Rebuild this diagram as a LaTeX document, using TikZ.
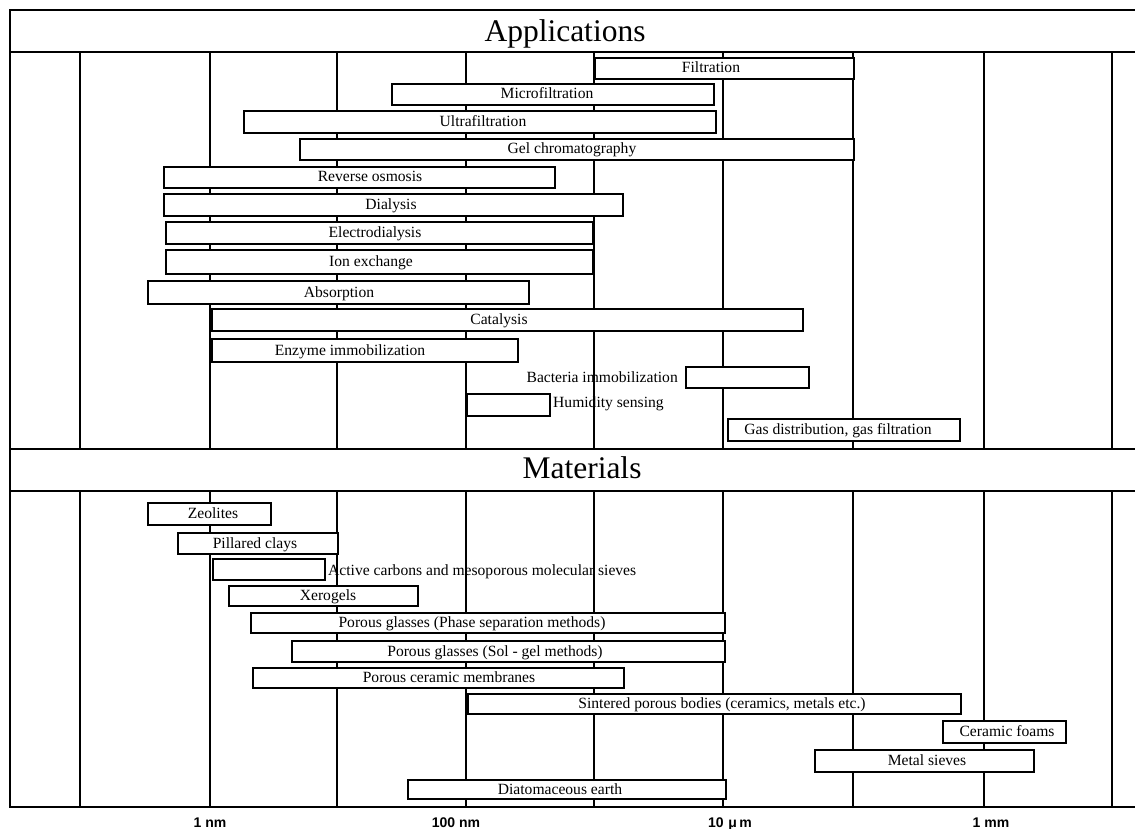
\documentclass[tikz,border=0pt]{standalone}
\usepackage{fontspec}
\setmainfont{Liberation Serif}
\newfontfamily\axisfont{Liberation Sans}
\newcommand{\mkbar}[7]{%
  \node[barbox, minimum width={(#3-#2)*1pt}, minimum height={(#5-#4)*1pt}] (#1) at (#2,#4) {};
  \node[lbl] (#1-t) at (#6,{(#4+#5)/2+5.5}) {#7};}
\newcommand{\mkbox}[5]{%
  \node[barbox, minimum width={(#3-#2)*1pt}, minimum height={(#5-#4)*1pt}] (#1) at (#2,#4) {};}
\begin{document}
\begin{tikzpicture}[x=1pt,y=-1pt,
  frame/.style={line width=1.9pt},
  gridline/.style={line width=1.5pt},
  barbox/.style={draw, fill=white, line width=1.6pt, inner sep=0pt, anchor=north west},
  lbl/.style={font=\fontsize{15.6}{18}\selectfont, inner sep=0pt, anchor=base},
  head/.style={font=\fontsize{31.5}{36}\selectfont, inner sep=0pt, anchor=base},
  axis/.style={font=\axisfont\bfseries\fontsize{14}{17}\selectfont, inner sep=0pt, anchor=base}]
\useasboundingbox (0,0) rectangle (1135,829);
\clip (0,0) rectangle (1135,829);
% grid lines
\foreach \gx in {80,210,337,466,594,723,853,984,1112}{
  \draw[gridline] (\gx,52) -- (\gx,449);
  \draw[gridline] (\gx,491) -- (\gx,807);
}
% frame
\draw[frame] (1140,10) -- (10,10) -- (10,807) -- (1140,807);
\draw[frame] (10,52) -- (1140,52);
\draw[frame] (10,449) -- (1140,449);
\draw[frame] (10,491) -- (1140,491);
\node[head] (apph) at (565,41.5) {Applications};
\node[head] (math) at (582,478) {Materials};
% applications
\mkbar{filt}{594}{853}{57}{78}{711}{Filtration}
\mkbar{mf}{391}{713}{83}{104}{547}{Microfiltration}
\mkbar{uf}{243}{715}{110}{132}{483}{Ultrafiltration}
\mkbar{gel}{299}{853}{138}{159}{572}{Gel chromatography}
\mkbar{ro}{163}{554}{166}{187}{370}{Reverse osmosis}
\mkbar{dia}{163}{622}{193}{215}{391}{Dialysis}
\mkbar{ed}{165}{592}{221}{243}{375}{Electrodialysis}
\mkbar{ion}{165}{592}{249}{273}{371}{Ion exchange}
\mkbar{abs}{147}{528}{280}{303}{339}{Absorption}
\mkbar{cat}{211}{802}{308}{330}{499}{Catalysis}
\mkbar{enz}{211}{517}{338}{361}{350}{Enzyme immobilization}
\mkbox{bac}{685}{808}{366}{387}
\node[lbl, anchor=base east] (bac-t) at (678,382) {Bacteria immobilization};
\mkbox{hum}{466}{549}{393}{415}
\node[lbl, anchor=base west] (hum-t) at (553,407) {Humidity sensing};
\mkbar{gas}{727}{959}{418}{440}{838}{Gas distribution, gas filtration}
% materials
\mkbar{zeo}{147}{270}{502}{524}{213}{Zeolites}
\mkbar{pil}{177}{337}{532}{553}{255}{Pillared clays}
\mkbox{act}{212}{324}{558}{579}
\node[lbl, anchor=base west] (act-t) at (328,575) {Active carbons and mesoporous molecular sieves};
\mkbar{xer}{228}{417}{585}{605}{328}{Xerogels}
\mkbar{pgp}{250}{724}{612}{632}{472}{Porous glasses (Phase separation methods)}
\mkbar{pgs}{291}{724}{640}{661}{495}{Porous glasses (Sol - gel methods)}
\mkbar{pcm}{252}{623}{667}{687}{449}{Porous ceramic membranes}
\mkbar{sin}{467}{960}{693}{713}{722}{Sintered porous bodies (ceramics, metals etc.)}
\mkbar{cf}{942}{1065}{720}{742}{1007}{Ceramic foams}
\mkbar{ms}{814}{1033}{749}{771}{927}{Metal sieves}
\mkbar{de}{407}{725}{779}{798}{560}{Diatomaceous earth}
% axis labels
\node[axis] (ax1) at (210,827) {1 nm};
\node[axis] (ax2) at (456,827) {100 nm};
\node[axis] (ax3) at (730,827) {10\,\,μ\,m};
\node[axis] (ax4) at (991,827) {1 mm};
\end{tikzpicture}
\end{document}
